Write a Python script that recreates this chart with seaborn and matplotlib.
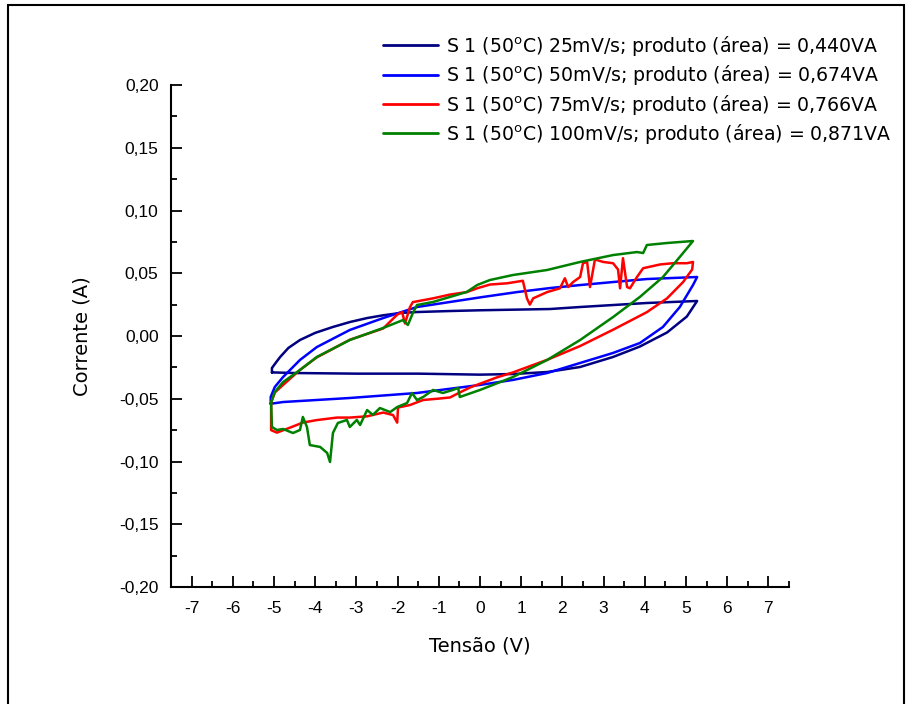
import matplotlib
matplotlib.use("Agg")
import matplotlib.pyplot as plt
from matplotlib.patches import Rectangle
from matplotlib.ticker import MultipleLocator, FuncFormatter
import numpy as np
import pandas as pd
import seaborn as sns

# Cyclic voltammetry loops, sample S 1 at 50 °C, four scan rates.
# Each loop is traced in order: upper branch left->right, lower branch right->left.
v25 = [-5.05, -5.05, -4.95, -4.85, -4.65, -4.37, -4.0, -3.57, -3.15, -2.74, -2.35, -1.94, -1.53, -0.73, 0.0, 1.70, 2.43, 4.05, 5.27,
       5.02, 4.54, 3.88, 3.23, 2.43, 1.63, 0.80, 0.0, -1.5, -3.0, -4.5, -5.05]
i25 = [-0.029, -0.0255, -0.021, -0.0167, -0.0095, -0.0032, 0.0025, 0.0072, 0.0112, 0.0143, 0.0165, 0.0183, 0.0191, 0.0199, 0.0205, 0.0215, 0.0231, 0.0263, 0.0279,
       0.0155, 0.0028, -0.0084, -0.0167, -0.0247, -0.0287, -0.0303, -0.0308, -0.030, -0.0300, -0.0295, -0.029]

v50 = [-5.08, -5.08, -5.03, -4.98, -4.78, -4.37, -3.96, -3.16, -2.35, -1.53, -0.73, 0.07, 0.90, 1.70, 2.43, 3.23, 4.05, 5.27,
       5.17, 4.85, 4.44, 3.88, 3.23, 2.43, 1.63, 0.80, 0.0, -1.53, -3.16, -4.78, -5.08]
i50 = [-0.054, -0.0486, -0.0445, -0.0406, -0.0327, -0.0191, -0.0088, 0.0048, 0.0143, 0.0231, 0.0271, 0.0311, 0.035, 0.0382, 0.0406, 0.043, 0.0454, 0.047,
       0.0406, 0.0231, 0.0072, -0.0056, -0.0135, -0.0215, -0.0295, -0.035, -0.039, -0.0454, -0.0494, -0.0526, -0.054]

v75 = [-5.07, -4.98, -4.78, -4.37, -3.96, -3.16, -2.35, -2.01, -1.89, -1.82, -1.70, -1.63, -1.14, -0.73, -0.32, -0.07,
       0.24, 0.66, 1.04, 1.14, 1.21, 1.29, 1.63, 1.94, 2.06, 2.14, 2.26, 2.43, 2.50, 2.60, 2.67, 2.79, 2.99, 3.23,
       3.35, 3.40, 3.47, 3.57, 3.64, 3.81, 3.96, 4.37, 4.68, 5.02, 5.17,
       5.15, 4.93, 4.54, 4.05, 3.23, 2.43, 1.63, 0.80, 0.41, 0.0, -0.24, -0.49, -0.73, -1.04, -1.38, -1.70, -1.99,
       -2.01, -2.11, -2.35, -2.74, -3.16, -3.47, -3.96, -4.30, -4.61, -4.93, -5.07, -5.07]
i75 = [-0.053, -0.045, -0.039, -0.027, -0.017, -0.003, 0.006, 0.017, 0.019, 0.010, 0.023, 0.027, 0.030, 0.033, 0.035, 0.038,
       0.041, 0.042, 0.044, 0.030, 0.025, 0.030, 0.035, 0.038, 0.046, 0.039, 0.043, 0.047, 0.058, 0.059, 0.039, 0.061, 0.059, 0.058,
       0.053, 0.038, 0.062, 0.039, 0.038, 0.047, 0.054, 0.057, 0.058, 0.058, 0.059,
       0.053, 0.043, 0.030, 0.019, 0.005, -0.008, -0.019, -0.029, -0.033, -0.038, -0.041, -0.045, -0.049, -0.050, -0.051, -0.055, -0.057,
       -0.069, -0.063, -0.061, -0.064, -0.065, -0.065, -0.067, -0.069, -0.073, -0.077, -0.075, -0.053]

v100 = [-5.07, -4.98, -4.78, -4.37, -3.96, -3.16, -2.35, -1.87, -1.75, -1.63, -1.53, -1.14, -0.73, -0.32, -0.07, 0.24,
        0.80, 1.63, 2.43, 3.23, 3.81, 3.96, 4.05, 4.54, 5.17,
        4.85, 4.44, 3.88, 3.23, 2.43, 1.63, 0.80, 0.0, -0.49, -0.53, -0.66, -0.90, -1.14, -1.38, -1.53, -1.65, -1.77,
        -2.01, -2.18, -2.43, -2.60, -2.74, -2.91, -2.99, -3.16, -3.23, -3.45, -3.57, -3.64, -3.71, -3.88, -4.13, -4.20,
        -4.30, -4.37, -4.54, -4.78, -4.93, -5.05, -5.07]
i100 = [-0.053, -0.0446, -0.0367, -0.0271, -0.0167, -0.0032, 0.0064, 0.0127, 0.0088, 0.0183, 0.0247, 0.0271, 0.0311, 0.0351, 0.0406, 0.0446,
        0.0486, 0.0526, 0.0590, 0.0645, 0.0669, 0.0661, 0.0725, 0.0741, 0.0757,
        0.0630, 0.0470, 0.0311, 0.0151, -0.0032, -0.0191, -0.0327, -0.0430, -0.0486, -0.0414, -0.0430, -0.0454, -0.0430, -0.0486, -0.0510, -0.0454, -0.0534,
        -0.0566, -0.0606, -0.0574, -0.0629, -0.0590, -0.0709, -0.0669, -0.0725, -0.0669, -0.0693, -0.0773, -0.1004, -0.0932, -0.0884, -0.0869, -0.0725,
        -0.0645, -0.0749, -0.0773, -0.0741, -0.0749, -0.0725, -0.053]

labels = [
    r"S 1 (50$^{\mathrm{o}}$C) 25mV/s; produto (área) = 0,440VA",
    r"S 1 (50$^{\mathrm{o}}$C) 50mV/s; produto (área) = 0,674VA",
    r"S 1 (50$^{\mathrm{o}}$C) 75mV/s; produto (área) = 0,766VA",
    r"S 1 (50$^{\mathrm{o}}$C) 100mV/s; produto (área) = 0,871VA",
]
colors = ["#000080", "#0000ff", "#ff0000", "#008000"]

frames = []
for lab, v, i in zip(labels, [v25, v50, v75, v100], [i25, i50, i75, i100]):
    frames.append(pd.DataFrame({"V": v, "I": i, "serie": lab, "ordem": np.arange(len(v))}))
df = pd.concat(frames, ignore_index=True)

sns.set_style("ticks")
plt.rcParams["font.family"] = ["DejaVu Sans"]
plt.rcParams["mathtext.fontset"] = "dejavusans"
for key in ["text.color", "axes.labelcolor", "xtick.color", "ytick.color", "axes.edgecolor"]:
    plt.rcParams[key] = "black"

fig = plt.figure(figsize=(9.07, 7.04), dpi=100)
ax = fig.add_axes([171 / 907, 1 - 587 / 704, 618 / 907, 502 / 704])

sns.lineplot(data=df, x="V", y="I", hue="serie", palette=dict(zip(labels, colors)),
             sort=False, estimator=None, units="serie", lw=1.8, ax=ax, legend=True)

ax.set_xlim(-7.5, 7.5)
ax.set_ylim(-0.2, 0.2)
ax.xaxis.set_major_locator(MultipleLocator(1))
ax.xaxis.set_minor_locator(MultipleLocator(0.5))
ax.yaxis.set_major_locator(MultipleLocator(0.05))
ax.yaxis.set_minor_locator(MultipleLocator(0.025))
ax.yaxis.set_major_formatter(FuncFormatter(lambda y, _: f"{y:.2f}".replace(".", ",").replace("-0,00", "0,00")))
ax.xaxis.set_major_formatter(FuncFormatter(lambda x, _: "0" if abs(x) < 0.5 else f"{x:.0f}"))

ax.tick_params(which="both", direction="in", width=1.3, color="black", labelcolor="black")
ax.tick_params(which="major", length=8, labelsize=12.5)
ax.tick_params(axis="y", which="major", pad=9)
ax.tick_params(axis="x", which="major", pad=10)
ax.tick_params(which="minor", length=4.5)
for lbl in ax.get_xticklabels() + ax.get_yticklabels():
    lbl.set_family("Liberation Sans")

for side in ["top", "right"]:
    ax.spines[side].set_visible(False)
for side in ["left", "bottom"]:
    ax.spines[side].set_linewidth(1.5)
    ax.spines[side].set_color("black")

ax.set_xlabel("Tensão (V)", fontsize=14, labelpad=15)
ax.set_ylabel("Corrente (A)", fontsize=14, labelpad=20)

handles, _ = ax.get_legend_handles_labels()
ax.legend(handles, labels, loc="upper left", bbox_to_anchor=(383 / 907, 1 - 34 / 704),
          bbox_transform=fig.transFigure, frameon=False, fontsize=13.6,
          handlelength=2.9, handletextpad=0.45, labelspacing=0.28, borderpad=0, borderaxespad=0)
for line in ax.get_legend().get_lines():
    line.set_linewidth(2.0)

# outer frame around the figure
fig.patches.append(Rectangle((8 / 907, -0.05), (904 - 8) / 907, 1 - 5 / 704 + 0.05,
                             transform=fig.transFigure, fill=False, edgecolor="black", lw=1.5))

fig.savefig("out.png", dpi=100)
